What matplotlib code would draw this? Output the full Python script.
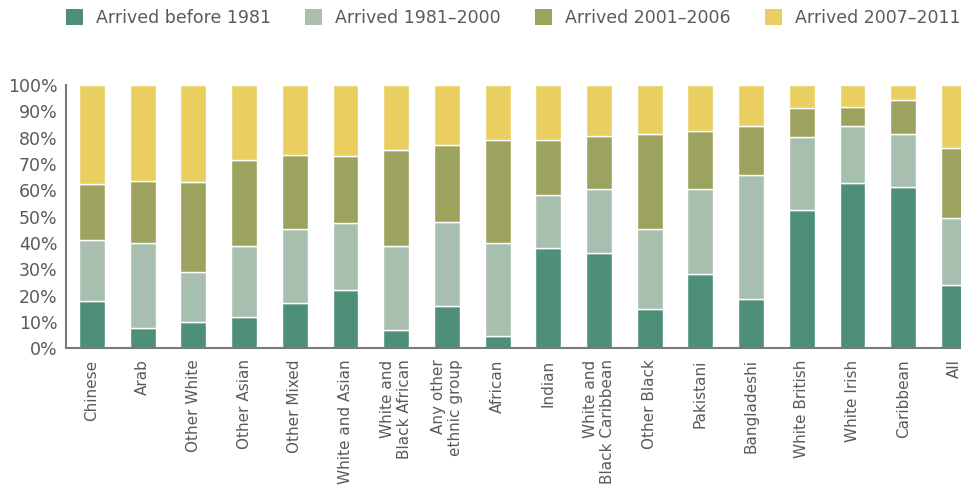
import matplotlib
matplotlib.use("Agg")
import matplotlib.pyplot as plt
import numpy as np
from matplotlib.patches import Patch

categories = ["Chinese", "Arab", "Other White", "Other Asian", "Other Mixed",
              "White and Asian", "White and\nBlack African", "Any other\nethnic group",
              "African", "Indian", "White and\nBlack Caribbean", "Other Black",
              "Pakistani", "Bangladeshi", "White British", "White Irish",
              "Caribbean", "All"]

before_1981 = [18.0, 7.6, 10.1, 11.9, 17.1, 22.0, 6.8, 15.9, 4.8, 38.1, 36.2, 15.1,
               28.2, 18.7, 52.5, 62.8, 61.3, 24.1]
y1981_2000 = [23.1, 32.3, 19.0, 27.1, 28.1, 25.7, 32.2, 32.1, 35.3, 20.3, 24.3, 30.1,
              32.3, 47.1, 27.8, 21.8, 20.1, 25.5]
y2001_2006 = [21.3, 23.6, 33.9, 32.5, 28.2, 25.3, 36.2, 29.2, 39.1, 20.8, 20.1, 36.2,
              22.2, 18.8, 11.0, 7.0, 13.0, 26.5]
y2007_2011 = [100 - a - b - c for a, b, c in zip(before_1981, y1981_2000, y2001_2006)]

series_names = ["Arrived before 1981", "Arrived 1981\u20132000",
                "Arrived 2001\u20132006", "Arrived 2007\u20132011"]
colors = ["#4E8F78", "#A8BFB0", "#9CA35E", "#E8CF60"]
yticks = [0, 10, 20, 30, 40, 50, 60, 70, 80, 90, 100]
ytick_labels = [f"{v}%" for v in yticks]

plt.rcParams['font.family'] = ['DejaVu Sans']
text_color = "#5a5a5a"

fig = plt.figure(figsize=(9.62, 4.86), dpi=100)
ax = fig.add_axes([66/962, 1 - 348.3/486, 1 - 66/962, (348.3 - 85)/486])

x = np.arange(len(categories))
bottom = np.zeros(len(categories))
for vals, col, name in zip([before_1981, y1981_2000, y2001_2006, y2007_2011], colors, series_names):
    ax.bar(x, vals, width=0.51, bottom=bottom, color=col, edgecolor="white",
           linewidth=1.0, label=name)
    bottom += np.array(vals)

ax.set_xlim(-0.513, 17.16)
ax.set_ylim(0, 100)
ax.set_yticks(yticks)
ax.set_yticklabels(ytick_labels, fontsize=12.5, color=text_color)
ax.set_xticks(x)
ax.set_xticklabels(categories, rotation=90, fontsize=11, color=text_color,
                   ha="center", va="top", multialignment="right")
ax.tick_params(axis="both", length=0)
ax.tick_params(axis="y", pad=6)
ax.tick_params(axis="x", pad=8)
for s in ["top", "right"]:
    ax.spines[s].set_visible(False)
for s in ["left", "bottom"]:
    ax.spines[s].set_color("#7a7a7a")
    ax.spines[s].set_linewidth(1.5)

handles = [Patch(facecolor=c, edgecolor="none") for c in colors]
fig.legend(handles, series_names, loc="center left", bbox_to_anchor=(50/962, 1 - 18/486),
           ncol=4, frameon=False, fontsize=12.5, labelcolor=text_color,
           handlelength=1.0, handleheight=1.0, handletextpad=0.75, columnspacing=1.95)

fig.savefig("out.png", dpi=100)
